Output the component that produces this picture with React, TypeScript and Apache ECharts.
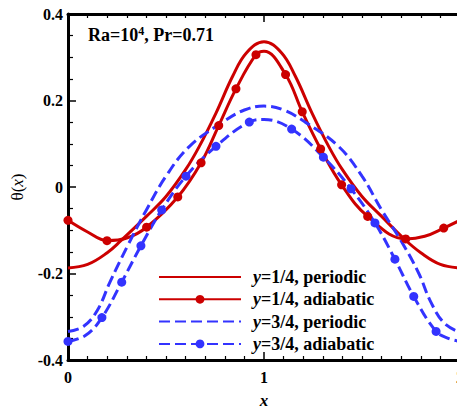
import React, { useEffect, useRef } from "react";
import * as echarts from "echarts";

const FONT = '"Liberation Serif", "Times New Roman", serif';
const RED = "#cc0000";
const BLUE = "#3333ff";

const seriesNames = [
  "y=1/4, periodic",
  "y=1/4, adiabatic",
  "y=3/4, periodic",
  "y=3/4, adiabatic",
];

const xTickLabels = ["0", "1", "2"];
const yTickLabels = ["-0.4", "-0.2", "0", "0.2", "0.4"];

// y=1/4 periodic (solid red, no markers)
const redPeriodicX = [0, 0.1, 0.2, 0.27, 0.4, 0.5, 0.6, 0.67, 0.755, 0.84, 0.91, 1.0, 1.09, 1.16, 1.245, 1.33, 1.4, 1.5, 1.6, 1.72, 1.8, 1.9, 2.0];
const redPeriodicY = [-0.187, -0.179, -0.152, -0.124, -0.068, -0.022, 0.04, 0.094, 0.171, 0.256, 0.31, 0.336, 0.31, 0.256, 0.171, 0.094, 0.04, -0.022, -0.068, -0.122, -0.152, -0.179, -0.187];

// y=1/4 adiabatic (solid red, markers)
const redAdiaMarkX = [0, 0.199, 0.401, 0.56, 0.679, 0.769, 0.857, 0.959, 1.11, 1.195, 1.289, 1.396, 1.529, 1.723, 1.917];
const redAdiaMarkY = [-0.077, -0.124, -0.093, -0.023, 0.056, 0.142, 0.227, 0.306, 0.26, 0.174, 0.088, 0.005, -0.068, -0.12, -0.095];
const redAdiaExtraX = [0.1, 0.3, 1.0, 1.82, 2.0];
const redAdiaExtraY = [-0.104, -0.118, 0.314, -0.114, -0.077];

// y=3/4 periodic (dashed blue, no markers)
const bluePeriodicX = [0, 0.08, 0.15, 0.214, 0.304, 0.4, 0.5, 0.62, 0.79, 0.9, 1.0, 1.1, 1.21, 1.38, 1.5, 1.6, 1.7, 1.79, 1.85, 1.92, 2.0];
const bluePeriodicY = [-0.334, -0.322, -0.285, -0.22, -0.136, -0.053, 0.025, 0.094, 0.15, 0.178, 0.187, 0.178, 0.15, 0.094, 0.025, -0.053, -0.125, -0.2, -0.265, -0.315, -0.336];

// y=3/4 adiabatic (dashed blue, markers)
const blueAdiaMarkX = [0, 0.173, 0.274, 0.372, 0.478, 0.602, 0.755, 0.925, 1.141, 1.303, 1.444, 1.566, 1.668, 1.764, 1.878];
const blueAdiaMarkY = [-0.357, -0.302, -0.22, -0.136, -0.053, 0.025, 0.094, 0.15, 0.134, 0.069, -0.004, -0.083, -0.167, -0.253, -0.334];
const blueAdiaExtraX = [0.09, 1.0, 1.94, 2.0];
const blueAdiaExtraY = [-0.343, 0.156, -0.35, -0.357];

function pairs(xs: number[], ys: number[]) {
  return xs.map((x, i) => [x, ys[i]]);
}

function markedData(mx: number[], my: number[], ex: number[], ey: number[]) {
  const items: any[] = [];
  mx.forEach((x, i) => items.push({ value: [x, my[i]], symbol: "circle" }));
  ex.forEach((x, i) => items.push({ value: [x, ey[i]], symbol: "none" }));
  items.sort((a, b) => a.value[0] - b.value[0]);
  return items;
}

export default function App() {
  const ref = useRef<HTMLDivElement>(null);
  useEffect(() => {
    if (!ref.current) return;
    const chart = echarts.init(ref.current, undefined, { renderer: "svg" });
    const axisLine = { show: true, onZero: false, lineStyle: { color: "#000", width: 3 } };
    const labelStyle = { fontFamily: FONT, fontWeight: "bold" as const, fontSize: 16, color: "#000" };
    const xCommon = {
      type: "value" as const,
      min: 0,
      max: 2,
      interval: 1,
      axisLine,
      axisTick: { show: true, inside: true, length: 8, lineStyle: { color: "#000", width: 1.5 } },
      minorTick: { show: true, splitNumber: 10, length: 4, lineStyle: { color: "#000", width: 1.2 } },
      splitLine: { show: false },
      minorSplitLine: { show: false },
    };
    const hidden = { color: "rgba(0,0,0,0)", opacity: 0, borderWidth: 0 };
    chart.setOption({
      animation: false,
      backgroundColor: "#fff",
      title: {
        text: "Ra=10{sup|4}, Pr=0.71",
        left: 88,
        top: 25,
        padding: 0,
        textStyle: {
          fontFamily: FONT,
          fontWeight: "bold",
          fontSize: 18,
          color: "#000",
          lineHeight: 20,
          rich: {
            sup: { fontFamily: FONT, fontWeight: "bold", fontSize: 12, color: "#000", verticalAlign: "top", lineHeight: 20, padding: [0, 0, 8, 0] },
          },
        },
      },
      grid: { left: 68, top: 14, width: 392, height: 346, containLabel: false, outerBoundsMode: "none" },
      legend: {
        orient: "vertical",
        left: 158,
        top: 268,
        padding: 0,
        itemWidth: 82,
        itemHeight: 11,
        itemGap: 4.3,
        data: [
          { name: seriesNames[0], itemStyle: hidden },
          { name: seriesNames[1], itemStyle: { color: RED, opacity: 1 } },
          { name: seriesNames[2], itemStyle: hidden },
          { name: seriesNames[3], itemStyle: { color: BLUE, opacity: 1 } },
        ],
        formatter: (name: string) => `{i|${name.slice(0, 1)}}{t|${name.slice(1)}}`,
        textStyle: {
          lineHeight: 14,
          padding: [0, 0, 0, 7],
          rich: {
            i: { fontFamily: FONT, fontWeight: "bold", fontStyle: "italic", fontSize: 18, color: "#000", lineHeight: 14 },
            t: { fontFamily: FONT, fontWeight: "bold", fontSize: 18, color: "#000", lineHeight: 14 },
          },
        },
      },
      xAxis: [
        {
          ...xCommon,
          position: "bottom",
          axisLabel: { ...labelStyle, margin: 9, formatter: (v: number) => xTickLabels[Math.round(v)] ?? String(v) },
          name: "x",
          nameLocation: "middle",
          nameGap: 32,
          nameTextStyle: { fontFamily: FONT, fontWeight: "bold", fontStyle: "italic", fontSize: 17, color: "#000" },
        },
        {
          ...xCommon,
          position: "top",
          axisLabel: { show: false },
        },
      ],
      yAxis: {
        type: "value",
        min: -0.4,
        max: 0.4,
        interval: 0.2,
        axisLine,
        axisTick: { show: true, inside: true, length: 8, lineStyle: { color: "#000", width: 1.5 } },
        minorTick: { show: true, splitNumber: 4, length: 5, lineStyle: { color: "#000", width: 1.2 } },
        splitLine: { show: false },
        axisLabel: {
          ...labelStyle,
          margin: 5,
          formatter: (v: number) => yTickLabels[Math.round((v + 0.4) / 0.2)] ?? String(v),
        },
        name: "θ({i|x})",
        nameLocation: "middle",
        nameRotate: 90,
        nameGap: 42,
        nameTextStyle: {
          fontFamily: FONT,
          fontSize: 17,
          color: "#000",
          rich: { i: { fontFamily: FONT, fontSize: 17, fontStyle: "italic", color: "#000" } },
        },
      },
      series: [
        {
          name: seriesNames[0],
          type: "line",
          smooth: 0.4,
          symbol: "none",
          clip: false,
          data: pairs(redPeriodicX, redPeriodicY),
          lineStyle: { color: RED, width: 3 },
          itemStyle: { color: RED },
        },
        {
          name: seriesNames[1],
          type: "line",
          smooth: 0.4,
          symbol: "circle",
          symbolSize: 9,
          showAllSymbol: true,
          clip: false,
          data: markedData(redAdiaMarkX, redAdiaMarkY, redAdiaExtraX, redAdiaExtraY),
          lineStyle: { color: RED, width: 3 },
          itemStyle: { color: RED },
        },
        {
          name: seriesNames[2],
          type: "line",
          smooth: 0.4,
          symbol: "none",
          clip: false,
          data: pairs(bluePeriodicX, bluePeriodicY),
          lineStyle: { color: BLUE, width: 3, type: [11, 5] },
          itemStyle: { color: BLUE },
        },
        {
          name: seriesNames[3],
          type: "line",
          smooth: 0.4,
          symbol: "circle",
          symbolSize: 9,
          showAllSymbol: true,
          clip: false,
          data: markedData(blueAdiaMarkX, blueAdiaMarkY, blueAdiaExtraX, blueAdiaExtraY),
          lineStyle: { color: BLUE, width: 3, type: [11, 5] },
          itemStyle: { color: BLUE },
        },
      ],
    });
    return () => chart.dispose();
  }, []);
  return (
    <div
      ref={ref}
      style={{ position: "fixed", left: 0, top: 0, width: 457, height: 411, background: "#fff" }}
    />
  );
}
